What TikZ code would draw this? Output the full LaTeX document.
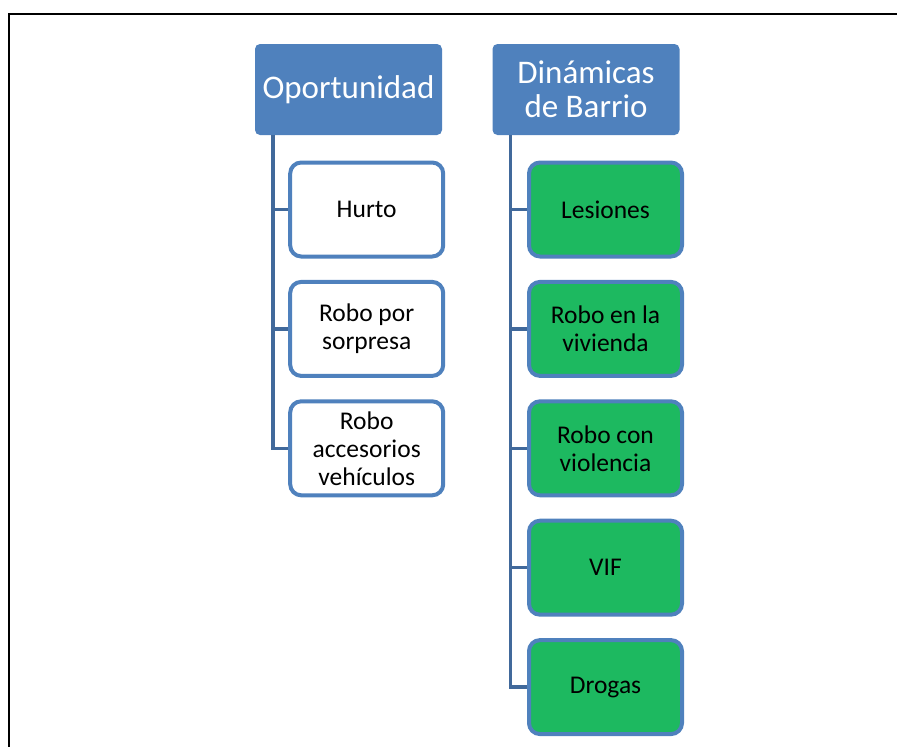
\documentclass[tikz,border=0pt]{standalone}
\usepackage{fontspec}
\setmainfont{Carlito}
\usepackage{tikz}
\usetikzlibrary{positioning}
\definecolor{hdrblue}{RGB}{79,129,189}
\definecolor{linkblue}{RGB}{65,105,155}
\definecolor{leafgreen}{RGB}{29,185,96}
\tikzset{
    header-box/.style = {fill=hdrblue, text=white, rectangle, rounded corners=5pt, minimum width=187pt, minimum height=91pt, inner sep=0pt, align=center, font=\fontsize{33}{34}\selectfont},
    item-box/.style = {draw=hdrblue, fill=white, line width=4pt, rectangle, rounded corners=11pt, minimum width=153pt, minimum height=94pt, inner sep=0pt, align=center, font=\fontsize{25.5}{28}\selectfont},
    item-box-green/.style = {item-box, fill=leafgreen},
    link-line/.style = {draw=linkblue, line width=3.5pt},
}

\begin{document}
\begin{tikzpicture}[x=1pt, y=-1pt]
\useasboundingbox (0,0) rectangle (897,747);
\draw[line width=2.5pt] (9,747) -- (9,14) -- (897,14);

% Oportunidad
\node [header-box] (oport) at (348.5,89.5) {Oportunidad};
\node [item-box] (hurto) at (366.7,209.5) {Hurto};
\node [item-box, below=21.4pt of hurto] (sorpresa) {Robo por\\sorpresa};
\node [item-box, below=21.4pt of sorpresa] (accesorios) {Robo\\accesorios\\veh\'iculos};

% Dinamicas de barrio
\node [header-box] (barrio) at (586,89.5) {Din\'amicas\\de Barrio};
\node [item-box-green] (lesiones) at (605.5,209.5) {Lesiones};
\node [item-box-green, below=21.4pt of lesiones] (vivienda) {Robo en la\\vivienda};
\node [item-box-green, below=21.4pt of vivienda] (violencia) {Robo con\\violencia};
\node [item-box-green, below=21.4pt of violencia] (vif) {VIF};
\node [item-box-green, below=21.4pt of vif] (drogas) {Drogas};

\foreach \leaf in {hurto, sorpresa, accesorios}
    \draw[link-line] ([xshift=18pt]oport.south west) |- (\leaf.west);
\foreach \leaf in {lesiones, vivienda, violencia, vif, drogas}
    \draw[link-line] ([xshift=18pt]barrio.south west) |- (\leaf.west);
\end{tikzpicture}
\end{document}
